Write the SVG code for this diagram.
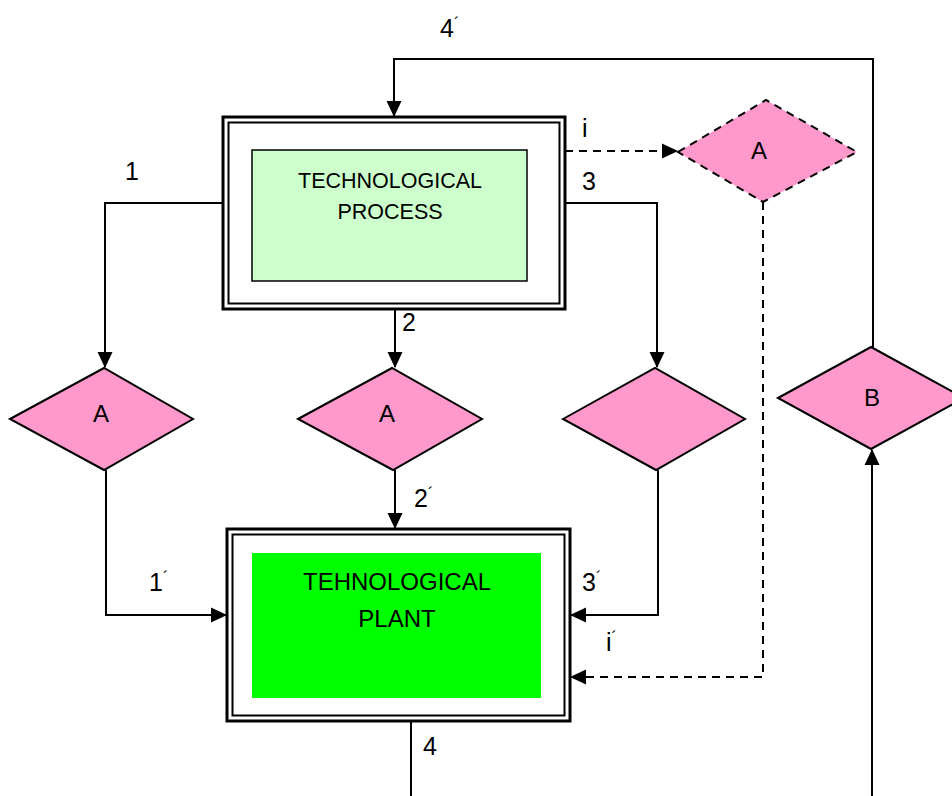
<svg xmlns="http://www.w3.org/2000/svg" width="952" height="796" viewBox="0 0 952 796">
<style>
.lbl{font-family:"Liberation Sans",Arial,sans-serif;font-size:25px;fill:#000}
.pr{font-size:16px}
.ttl{font-family:"Liberation Sans",Arial,sans-serif;fill:#000;text-anchor:middle}
.dia{fill:#ff99cc;stroke:#000;stroke-width:2}
.dash{stroke-dasharray:8 6}
.ln{fill:none;stroke:#000;stroke-width:2}
.outer{fill:#fff;stroke:#000;stroke-width:3}
.inner{fill:none;stroke:#000;stroke-width:2}
</style>
<defs>
<marker id="ar" markerUnits="userSpaceOnUse" markerWidth="16" markerHeight="16" refX="15" refY="7.5" orient="auto" viewBox="0 0 16 15">
<path d="M0,0 L16,7.5 L0,15 Z" fill="#000"/>
</marker>
</defs>
<rect width="952" height="796" fill="#fff"/>

<g id="connectors">
<path class="ln" d="M223,203 H105 V367" marker-end="url(#ar)"/>
<path class="ln" d="M395,309 V367" marker-end="url(#ar)"/>
<path class="ln" d="M565,203 H657 V367" marker-end="url(#ar)"/>
<path class="ln dash" d="M565,151 H677" marker-end="url(#ar)"/>
<path class="ln" d="M873,347 V59 H394 V116" marker-end="url(#ar)"/>
<path class="ln" d="M106,470 V615 H226" marker-end="url(#ar)"/>
<path class="ln" d="M395,470 V528" marker-end="url(#ar)"/>
<path class="ln" d="M658,470 V615 H571" marker-end="url(#ar)"/>
<path class="ln dash" d="M763,202 V677 H571" marker-end="url(#ar)"/>
<path class="ln" d="M411,721 V796"/>
<path class="ln" d="M872,796 V450" stroke-width="2.5" marker-end="url(#ar)"/>
</g>

<g id="process">
<rect class="outer" x="223" y="117" width="342" height="192"/>
<rect class="inner" x="228.5" y="122.5" width="331" height="181"/>
<rect x="252" y="150" width="275" height="131" fill="#ccffcc" stroke="#000" stroke-width="1.5"/>
<text class="ttl" font-size="21.5" x="390" y="188">TECHNOLOGICAL</text>
<text class="ttl" font-size="21.5" x="390" y="219">PROCESS</text>
</g>

<g id="plant">
<rect class="outer" x="227" y="529" width="343" height="192"/>
<rect class="inner" x="232.5" y="534.5" width="332" height="181"/>
<rect x="252" y="553" width="289" height="145" fill="#00ff00"/>
<text class="ttl" font-size="24" x="397" y="590">TEHNOLOGICAL</text>
<text class="ttl" font-size="24" x="397" y="627">PLANT</text>
</g>

<g id="diamond-a1">
<polygon class="dia" points="10,419 104,368 193,419 104,470"/>
<text class="ttl" font-size="24" x="101" y="422">A</text>
</g>
<g id="diamond-a2">
<polygon class="dia" points="298,419 392,368 482,419 393,470"/>
<text class="ttl" font-size="24" x="387" y="422">A</text>
</g>
<g id="diamond-3">
<polygon class="dia" points="563,419 655,368 745,419 656,470"/>
</g>
<g id="diamond-b">
<polygon class="dia" points="778,398 871,347 964,398 871,449"/>
<text class="ttl" font-size="24" x="872" y="406">B</text>
</g>
<g id="diamond-ai">
<polygon class="dia dash" points="678,152 766,100 857,152 763,202"/>
<text class="ttl" font-size="24" x="759" y="159">A</text>
</g>

<g id="labels">
<text class="lbl" x="125" y="180">1</text>
<text class="lbl" x="402" y="331">2</text>
<text class="lbl" x="582" y="190">3</text>
<text class="lbl" x="582" y="137">i</text>
<text class="lbl" x="440" y="37">4<tspan class="pr" dy="-8">´</tspan></text>
<text class="lbl" x="149" y="591">1<tspan class="pr" dy="-8">´</tspan></text>
<text class="lbl" x="414" y="507">2<tspan class="pr" dy="-8">´</tspan></text>
<text class="lbl" x="582" y="591">3<tspan class="pr" dy="-8">´</tspan></text>
<text class="lbl" x="606" y="651">i<tspan class="pr" dy="-8">´</tspan></text>
<text class="lbl" x="423" y="755">4</text>
</g>
</svg>
